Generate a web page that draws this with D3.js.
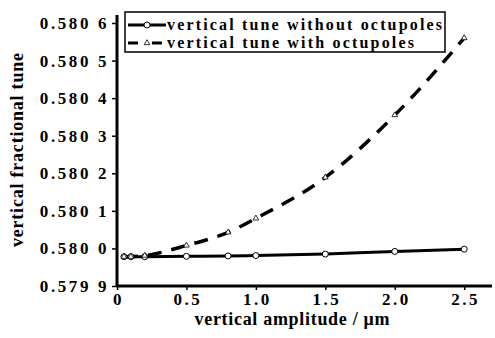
<!DOCTYPE html>
<html>
<head>
<meta charset="utf-8">
<script src="https://cdn.jsdelivr.net/npm/d3@7"></script>
<style>
  body { margin: 0; background: #fff; }
  svg { display: block; }
  text { font-family: "Liberation Serif", "DejaVu Serif", serif; font-weight: bold; fill: #000; }
</style>
</head>
<body>
<div id="chart"></div>
<script>
'use strict';

var amplitude = [0.05, 0.1, 0.2, 0.5, 0.8, 1.0, 1.5, 2.0, 2.5];
var tuneWithout = [0.579978, 0.579978, 0.579978, 0.579979, 0.579980, 0.579981, 0.579985, 0.579992, 0.579998];
var tuneWith = [0.579978, 0.579978, 0.579981, 0.580008, 0.580043, 0.580080, 0.580189, 0.580355, 0.580560];
var xTicks = [0, 0.5, 1.0, 1.5, 2.0, 2.5];
var yTicks = [0.5799, 0.5800, 0.5801, 0.5802, 0.5803, 0.5804, 0.5805, 0.5806];
var seriesNames = ['vertical tune without octupoles', 'vertical tune with octupoles'];

var width = 495,
    height = 338;

var x = d3.scaleLinear().domain([0, 2.7]).range([117, 492]);
var y = d3.scaleLinear().domain([0.5799, 0.5806]).range([286, 23]);

var svg = d3.select('#chart').append('svg')
    .attr('width', width)
    .attr('height', height);

var line = function(vals) {
    return d3.line()
        .x(function(d, i) { return x(amplitude[i]); })
        .y(function(d) { return y(d); })
        .curve(d3.curveMonotoneX)(vals);
};

// data lines
svg.append('path')
    .attr('d', line(tuneWithout))
    .attr('fill', 'none')
    .attr('stroke', '#000')
    .attr('stroke-width', 3);

svg.append('path')
    .attr('d', line(tuneWith))
    .attr('fill', 'none')
    .attr('stroke', '#000')
    .attr('stroke-width', 3.5)
    .attr('stroke-dasharray', '14,10');

// markers
svg.append('g').selectAll('circle').data(tuneWithout)
    .enter().append('circle')
    .attr('cx', function(d, i) { return x(amplitude[i]); })
    .attr('cy', function(d) { return y(d); })
    .attr('r', 3)
    .attr('fill', '#fff')
    .attr('stroke', '#000')
    .attr('stroke-width', 1);

var tri = d3.symbol().type(d3.symbolTriangle).size(14);
svg.append('g').selectAll('path').data(tuneWith)
    .enter().append('path')
    .attr('d', tri)
    .attr('transform', function(d, i) {
        return 'translate(' + x(amplitude[i]) + ',' + y(d) + ')';
    })
    .attr('fill', '#fff')
    .attr('stroke', '#000')
    .attr('stroke-width', 0.8);

// axes
var xAxis = d3.axisBottom(x).tickValues(xTicks).tickSize(4)
    .tickFormat(function(d) { return d === 0 ? '0' : d3.format('.1f')(d); });
var gx = svg.append('g').attr('transform', 'translate(0,' + 286 + ')').call(xAxis);
gx.select('.domain').attr('stroke-width', 3).attr('d', 'M117,0H492');
gx.selectAll('.tick line').attr('stroke-width', 1.5);
gx.selectAll('.tick text')
    .attr('font-size', 17)
    .attr('letter-spacing', '2.5px')
    .attr('y', 19)
    .attr('dy', null)
    .attr('dx', '1px');

var yAxis = d3.axisLeft(y).tickValues(yTicks).tickSize(5)
    .tickFormat(function(d) { var s = d.toFixed(4); return s.slice(0, 5) + ' ' + s.slice(5); });
var gy = svg.append('g').attr('transform', 'translate(117,0)').call(yAxis);
gy.select('.domain').attr('stroke-width', 3).attr('d', 'M0,286V15');
gy.selectAll('.tick line').attr('stroke-width', 1.5);
gy.selectAll('.tick text')
    .attr('font-size', 17)
    .attr('letter-spacing', '2.6px')
    .attr('x', -8);

// axis titles
svg.append('text')
    .attr('x', 292).attr('y', 325)
    .attr('text-anchor', 'middle')
    .attr('font-size', 18)
    .attr('textLength', 195)
    .attr('lengthAdjust', 'spacing')
    .text('vertical amplitude / \u03bcm');

svg.append('text')
    .attr('transform', 'translate(23,150) rotate(-90)')
    .attr('text-anchor', 'middle')
    .attr('font-size', 18)
    .attr('textLength', 194)
    .attr('lengthAdjust', 'spacing')
    .text('vertical fractional tune');

// legend
var legend = svg.append('g');
legend.append('rect')
    .attr('x', 125).attr('y', 12)
    .attr('width', 320).attr('height', 40)
    .attr('fill', '#fff')
    .attr('stroke', '#000')
    .attr('stroke-width', 1.5);

var rows = legend.selectAll('.row').data(seriesNames)
    .enter().append('g')
    .attr('class', 'row')
    .attr('transform', function(d, i) { return 'translate(0,' + (30 + i * 18) + ')'; });

rows.append('line')
    .attr('x1', 128).attr('x2', 166)
    .attr('y1', -5).attr('y2', -5)
    .attr('stroke', '#000')
    .attr('stroke-width', 3)
    .attr('stroke-dasharray', function(d, i) { return i === 0 ? null : '10,4,0,10,10'; });

rows.filter(function(d, i) { return i === 0; }).append('circle')
    .attr('cx', 147).attr('cy', -5).attr('r', 3)
    .attr('fill', '#fff').attr('stroke', '#000').attr('stroke-width', 1);

rows.filter(function(d, i) { return i === 1; }).append('path')
    .attr('d', tri)
    .attr('transform', 'translate(147,-5)')
    .attr('fill', '#fff').attr('stroke', '#000').attr('stroke-width', 0.8);

rows.append('text')
    .attr('x', 167).attr('y', 0)
    .attr('font-size', 16)
    .attr('textLength', function(d, i) { return i === 0 ? 275 : 247; })
    .attr('lengthAdjust', 'spacing')
    .text(function(d) { return d; });
</script>
</body>
</html>
